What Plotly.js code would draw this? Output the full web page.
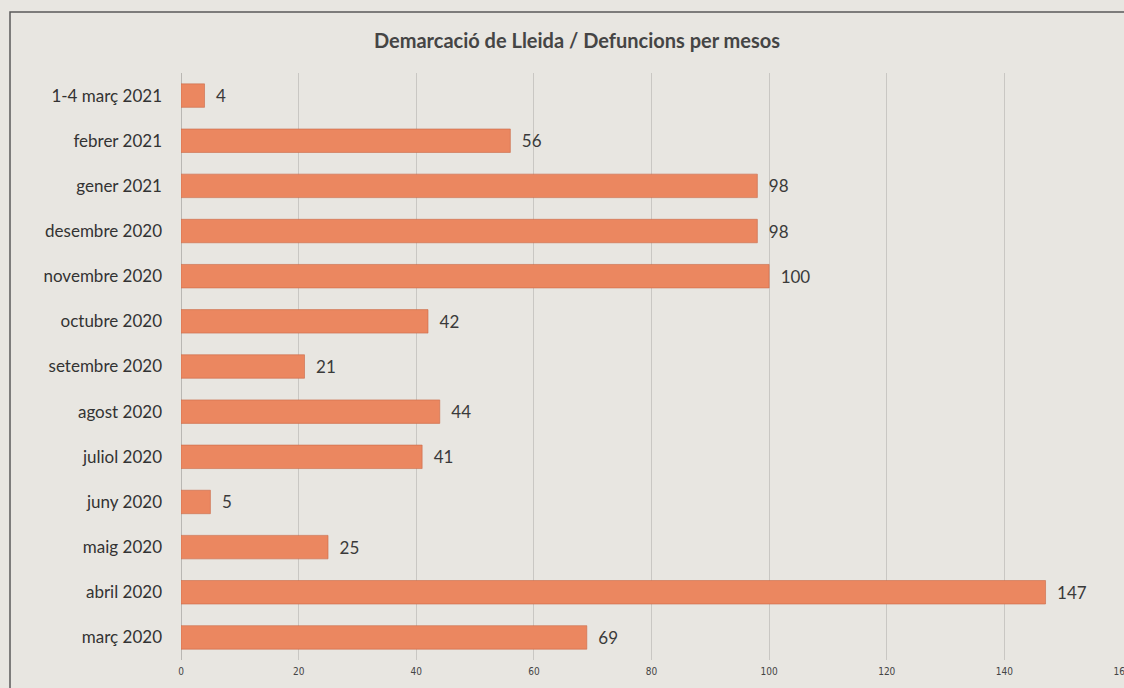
<!DOCTYPE html>
<html>
<head>
<meta charset="utf-8">
<script src="https://cdn.plot.ly/plotly-3.0.1.min.js"></script>
<style>html,body{margin:0;padding:0;background:#e8e6e1;}#chart{width:1124px;height:688px;}</style>
</head>
<body>
<div id="chart"></div>
<script>
const months = ["març 2020","abril 2020","maig 2020","juny 2020","juliol 2020","agost 2020","setembre 2020","octubre 2020","novembre 2020","desembre 2020","gener 2021","febrer 2021","1-4 març 2021"];
const deaths = [69,147,25,5,41,44,21,42,100,98,98,56,4];
const xTicks = [0,20,40,60,80,100,120,140,160];

const trace = {
  type: "bar",
  orientation: "h",
  y: months,
  x: deaths,
  texttemplate: "\u2002%{x}",
  textposition: "outside",
  cliponaxis: false,
  textfont: {family: "Lato, 'Open Sans', sans-serif", size: 17, color: "#3a3a3a"},
  marker: {color: "#eb8760", line: {color: "#c96a48", width: 0.6}},
  width: 0.52,
  hoverinfo: "skip"
};

const layout = {
  width: 1124, height: 688,
  margin: {l: 181, r: 2, t: 73, b: 28},
  paper_bgcolor: "#e8e6e1",
  plot_bgcolor: "rgba(0,0,0,0)",
  showlegend: false,
  title: {
    text: "<b>Demarcació de Lleida / Defuncions per mesos</b>",
    font: {family: "Lato, 'Open Sans', sans-serif", size: 20, color: "#454545"},
    x: 577/1124, xref: "container", xanchor: "center",
    y: 1 - 41/688, yref: "container", yanchor: "middle"
  },
  xaxis: {
    range: [0, 160],
    tickvals: xTicks,
    ticktext: xTicks.map(String),
    showgrid: true, gridcolor: "#c9c7c3", gridwidth: 1,
    zeroline: true, zerolinecolor: "#b9b7b3",
    showline: false, ticks: "",
    tickfont: {family: "'Liberation Sans Narrow', 'DejaVu Sans Condensed', sans-serif", size: 10, color: "#444"},
    ticklabelstandoff: 4,
    ticklabeloverflow: "allow",
    fixedrange: true
  },
  yaxis: {
    type: "category",
    categoryorder: "array", categoryarray: months,
    showgrid: false, zeroline: false, showline: false, ticks: "",
    tickfont: {family: "Lato, 'Open Sans', sans-serif", size: 17, color: "#333"},
    ticklabelstandoff: 18,
    fixedrange: true
  },
  shapes: [{
    type: "rect", xref: "paper", yref: "paper",
    x0: (10-181)/941, x1: 1.2, y0: -0.3, y1: (660-12)/587,
    line: {color: "#5a5a5a", width: 1.5}, fillcolor: "rgba(0,0,0,0)", layer: "below"
  }]
};

Plotly.newPlot("chart", [trace], layout, {displayModeBar: false, staticPlot: true});
</script>
</body>
</html>
